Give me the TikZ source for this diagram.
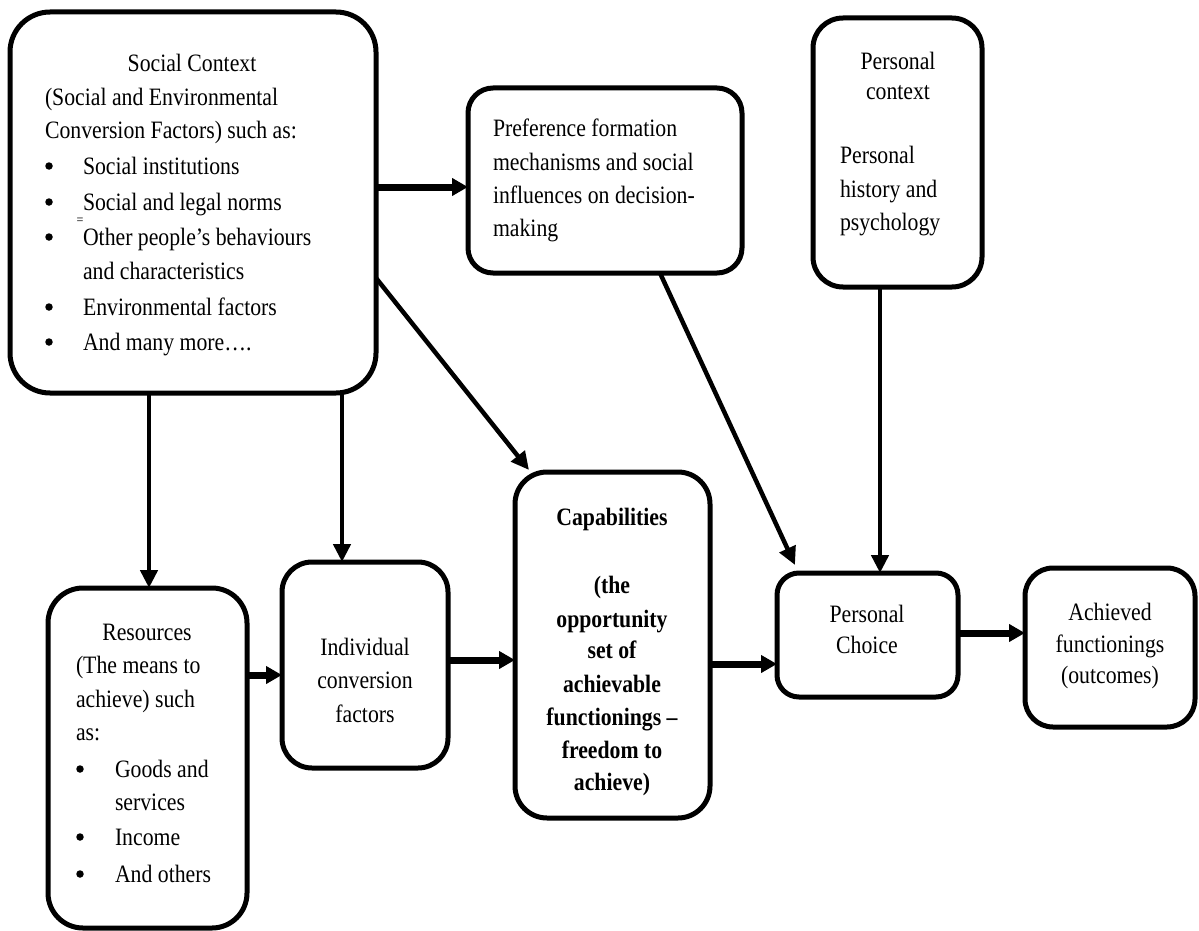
\documentclass[tikz,border=0pt]{standalone}
\usepackage{fontspec}
\setmainfont{Liberation Serif}[FakeStretch=0.87]
\usetikzlibrary{arrows.meta,fit}
\tikzset{
  box/.style={draw, line width=5pt, rounded corners=#1, inner sep=0pt, outer sep=0pt},
  box/.default=30pt,
  txt/.style={inner sep=0pt, outer sep=0pt, font=\fontsize{25}{30}\selectfont},
  lt/.style={txt, anchor=base west},
  ct/.style={txt, anchor=base},
  bul/.style={circle, fill, inner sep=0pt, minimum size=7.5pt},
  bt/.style={txt, anchor=base, font=\fontsize{25}{30}\selectfont\bfseries},
  arr/.style={line width=4.5pt, -{Triangle[length=18pt,width=17pt]}},
  harr/.style={line width=7pt, -{Triangle[length=16pt,width=17pt]}},
}
\begin{document}
\begin{tikzpicture}[x=1pt,y=-1pt]
\fill[white] (0,0) rectangle (1199,931);
\useasboundingbox (0,0) rectangle (1199,931);

% boxes
\node[box=40pt, fit={(10,12) (376,393)}] (soc) {};
\node[box=25pt, fit={(468,88) (742,273)}] (pref) {};
\node[box=30pt, fit={(813,18) (982,287)}] (pers) {};
\node[box=35pt, fit={(48,588) (247,928)}] (res) {};
\node[box=30pt, fit={(282,562) (448,768)}] (ind) {};
\node[box=32pt, fit={(515,472) (710,818)}] (cap) {};
\node[box=22pt, fit={(777,573) (958,697)}] (pc) {};
\node[box=28pt, fit={(1025,568) (1195,727)}] (ach) {};

% social context text
\node[ct] (soc1) at (192,72) {Social Context};
\node[lt] (soc2) at (45,106) {(Social and Environmental};
\node[lt] (soc3) at (45,139) {Conversion Factors) such as:};
\node[bul] (socb1) at (49,166) {};
\node[lt] (soc4) at (83,174) {Social institutions};
\node[bul] (socb2) at (49,202) {};
\node[lt] (soc5) at (83,210) {Social and legal norms};
\node[txt, font=\fontsize{14}{14}\selectfont] (socmark) at (80,221) {=};
\node[bul] (socb3) at (49,237) {};
\node[lt] (soc6) at (83,245) {Other people’s behaviours};
\node[lt] (soc7) at (83,279) {and characteristics};
\node[bul] (socb4) at (49,307) {};
\node[lt] (soc8) at (83,315) {Environmental factors};
\node[bul] (socb5) at (49,342) {};
\node[lt] (soc9) at (83,350) {And many more….};

% preference text
\node[lt] (pref1) at (493,137) {Preference formation};
\node[lt] (pref2) at (493,170) {mechanisms and social};
\node[lt] (pref3) at (493,203) {influences on decision-};
\node[lt] (pref4) at (493,236) {making};

% personal context text
\node[ct] (pers1) at (898,70) {Personal};
\node[ct] (pers2) at (898,100) {context};
\node[lt] (pers3) at (840,163) {Personal};
\node[lt] (pers4) at (840,197) {history and};
\node[lt] (pers5) at (840,230) {psychology};

% resources text
\node[ct] (res1) at (147,640) {Resources};
\node[lt] (res2) at (76,673) {(The means to};
\node[lt] (res3) at (76,707) {achieve) such};
\node[lt] (res4) at (76,740) {as:};
\node[bul] (resb1) at (80,769) {};
\node[lt] (res5) at (115,777) {Goods and};
\node[lt] (res6) at (115,810) {services};
\node[bul] (resb2) at (80,837) {};
\node[lt] (res7) at (115,845) {Income};
\node[bul] (resb3) at (80,874) {};
\node[lt] (res8) at (115,882) {And others};

% individual conversion factors
\node[ct] (ind1) at (365,655) {Individual};
\node[ct] (ind2) at (365,688) {conversion};
\node[ct] (ind3) at (365,722) {factors};

% capabilities
\node[bt] (cap1) at (612,525) {Capabilities};
\node[bt] (cap2) at (612,593) {(the};
\node[bt] (cap3) at (612,627) {opportunity};
\node[bt] (cap4) at (612,658) {set of};
\node[bt] (cap5) at (612,692) {achievable};
\node[bt] (cap6) at (612,725) {functionings –};
\node[bt] (cap7) at (612,758) {freedom to};
\node[bt] (cap8) at (612,790) {achieve)};

% personal choice
\node[ct] (pc1) at (867,622) {Personal};
\node[ct] (pc2) at (867,653) {Choice};

% achieved functionings
\node[ct] (ach1) at (1110,620) {Achieved};
\node[ct] (ach2) at (1110,652) {functionings};
\node[ct] (ach3) at (1110,683) {(outcomes)};

% connectors
\draw[harr] (soc.east |- 0,187) -- (pref.west |- 0,187);
\draw[arr] (soc.east |- 0,278) -- ([xshift=14pt,yshift=2pt]cap.north west);
\draw[arr] (soc.south -| 149,0) -- (res.north -| 149,0);
\draw[arr] (soc.south -| 342,0) -- (ind.north -| 342,0);
\draw[arr] (pref.south -| 660,0) -- ([xshift=18pt,yshift=8pt]pc.north west);
\draw[arr] (pers.south -| 880,0) -- (pc.north -| 880,0);
\draw[harr] (res.east |- 0,675) -- (ind.west |- 0,675);
\draw[harr] (ind.east |- 0,660) -- (cap.west |- 0,660);
\draw[harr] (cap.east |- 0,664) -- (pc.west |- 0,664);
\draw[harr] (pc.east |- 0,633) -- (ach.west |- 0,633);
\end{tikzpicture}
\end{document}
